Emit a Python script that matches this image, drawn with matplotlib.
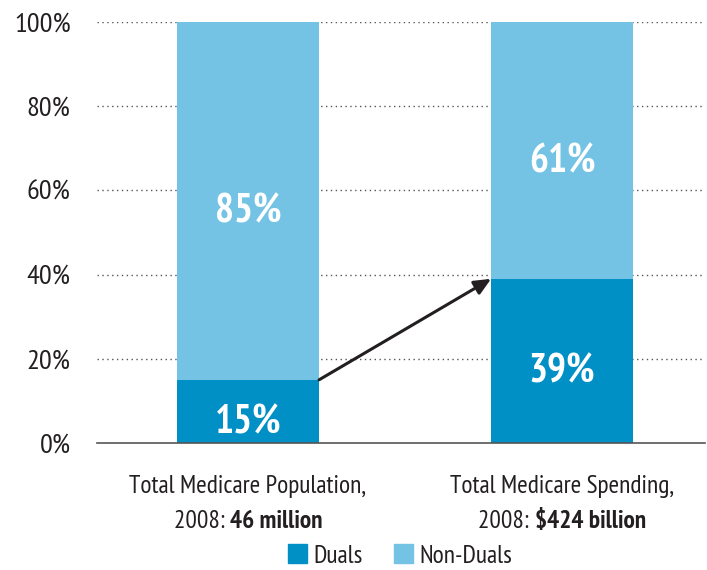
import matplotlib.pyplot as plt
from matplotlib.patches import Patch

# Data
categories = ["Total Medicare Population,", "Total Medicare Spending,"]
year_labels = ["2008: ", "2008: "]
total_labels = ["46 million", "$424 billion"]
duals = [15, 39]
non_duals = [85, 61]
y_ticks = [0, 20, 40, 60, 80, 100]

DUALS_COLOR = "#0090C6"
NON_DUALS_COLOR = "#74C3E4"
TEXT_COLOR = "#231F20"

plt.rcParams["font.family"] = ["PT Sans Narrow", "DejaVu Sans"]

fig = plt.figure(figsize=(7.07, 5.70), dpi=100)
ax = fig.add_axes([97 / 707, 127 / 570, 608 / 707, 421 / 570])

x = [0, 1]
bar_width = 0.452
ax.bar(x, duals, width=bar_width, color=DUALS_COLOR, zorder=2)
ax.bar(x, non_duals, width=bar_width, bottom=duals, color=NON_DUALS_COLOR, zorder=2)

ax.set_xlim(-0.481, 1.455)
ax.set_ylim(0, 100)
ax.set_yticks(y_ticks)
ax.set_yticklabels([f"{v}%" for v in y_ticks], fontsize=20.5, color=TEXT_COLOR)
ax.tick_params(axis="y", length=0, pad=19)
ax.set_xticks([])
for v in y_ticks[1:]:
    ax.axhline(v, color="#555555", linestyle=(0, (1, 2.5)), linewidth=1.0, zorder=1)

for side in ["left", "right", "top"]:
    ax.spines[side].set_visible(False)
ax.spines["bottom"].set_color("#555555")
ax.spines["bottom"].set_linewidth(1.2)

# Segment labels (sit a little below the segment middle, as in the original)
for xi, d, n in zip(x, duals, non_duals):
    for yv, val in [(d / 2, d), (d + n / 2, n)]:
        ax.annotate(f"{val}%", xy=(xi, yv), xytext=(0, -8), textcoords="offset points",
                    ha="center", va="center", color="white",
                    fontsize=28.5, fontweight="bold", zorder=4)

# Arrow from the top of the first duals bar to the top of the second
ax.annotate("", xy=(x[1] - bar_width / 2, duals[1]),
            xytext=(x[0] + bar_width / 2, duals[0]),
            arrowprops=dict(arrowstyle="-|>,head_length=1.0,head_width=0.45",
                            color=TEXT_COLOR, linewidth=2.2, shrinkA=0, shrinkB=0),
            zorder=3)

# Category labels, second line mixes regular and bold text
fig.canvas.draw()
renderer = fig.canvas.get_renderer()
for xi, cat, year, total in zip(x, categories, year_labels, total_labels):
    xf = fig.transFigure.inverted().transform(ax.transData.transform((xi, 0)))[0]
    fig.text(xf, 1 - 487 / 570, cat, ha="center", va="center", fontsize=18.3,
             color=TEXT_COLOR)
    t1 = fig.text(0, 1 - 521 / 570, year, ha="left", va="center", fontsize=18.3,
                  color=TEXT_COLOR)
    t2 = fig.text(0, 1 - 521 / 570, total, ha="left", va="center", fontsize=18.3,
                  color=TEXT_COLOR, fontweight="bold")
    w1 = t1.get_window_extent(renderer).width / fig.bbox.width
    w2 = t2.get_window_extent(renderer).width / fig.bbox.width
    start = xf - (w1 + w2) / 2
    t1.set_x(start)
    t2.set_x(start + w1)

handles = [Patch(color=DUALS_COLOR, label="Duals"),
           Patch(color=NON_DUALS_COLOR, label="Non-Duals")]
fig.legend(handles=handles, loc="center", bbox_to_anchor=(400 / 707, 1 - 556 / 570),
           ncol=2, frameon=False, fontsize=18.3, handlelength=0.75, handleheight=0.75,
           handletextpad=0.25, columnspacing=1.2, labelcolor=TEXT_COLOR,
           borderpad=0.2)

fig.savefig("out.png", dpi=100)
